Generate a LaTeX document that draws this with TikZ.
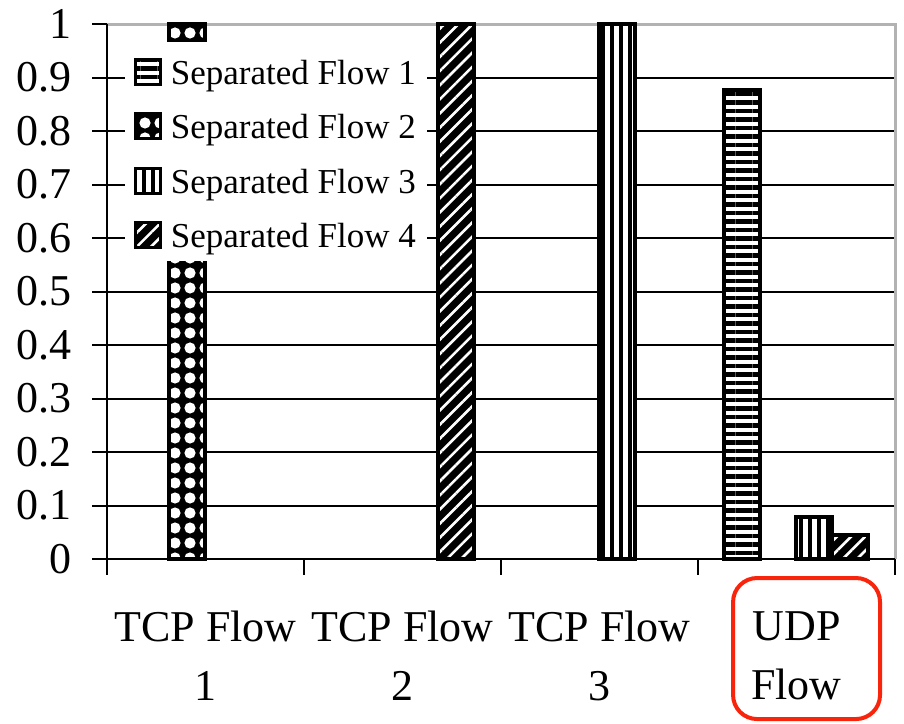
\documentclass[tikz,border=0pt]{standalone}
\usepackage{fontspec}
\setmainfont{Liberation Serif}
\usetikzlibrary{patterns.meta,positioning}
\definecolor{udpred}{RGB}{248,36,12}

\tikzset{
  bar/.style={draw=black, line width=2pt},
  flow 1/.style={preaction={fill=white}, pattern color=black,
    pattern={Lines[angle=0,distance=4.25pt,line width=2.1pt]}},
  flow 2/.style={preaction={fill=black}, pattern color=white,
    pattern={Dots[distance=7.5pt,radius=2.8pt,xshift=5pt]}},
  flow 3/.style={preaction={fill=white}, pattern color=black,
    pattern={Lines[angle=90,distance=4.5pt,line width=2.2pt]}},
  flow 4/.style={preaction={fill=black}, pattern color=white,
    pattern={Lines[angle=45,distance=5pt,line width=1.3pt]}},
}

\begin{document}
\begin{tikzpicture}[x=98.5pt, y=267.5pt,
    tick/.style={font=\fontsize{22}{26}\selectfont, anchor=east, inner sep=0pt},
    cat/.style={font=\fontsize{22}{29.5}\selectfont, align=center, anchor=north, inner sep=0pt},
    legtext/.style={font=\fontsize{17.5}{20}\selectfont, anchor=west, inner sep=0pt, text depth=0pt}]
    \useasboundingbox (-0.5431,-0.3065) rectangle (4.0457,1.0449);
    %% Grid and frame
    \foreach \v in {0.1,0.2,...,0.9}
        \draw[line width=1pt] (0,\v) -- (4,\v);
    \draw[gray!60, line width=1.5pt] (0,1) -- (4,1) -- (4,0);
    %% Axes
    \draw[line width=1pt] (0,1) -- (0,0) -- (4,0);
    \foreach \t [count=\i] in {0,0.1,0.2,0.3,0.4,0.5,0.6,0.7,0.8,0.9,1} {
        \draw[line width=1pt] (-0.076,\t) -- (0,\t);
        \node[tick] (yl\i) at (-0.178,\t) {\t};
    }
    \foreach \c in {0,...,4}
        \draw[line width=1pt] (\c,0) -- (\c,-0.03);
    %% Categories
    \node[cat] (tcp1) at (0.5,-0.097) {TCP Flow\\1};
    \node[cat] (tcp2) at (1.5,-0.097) {TCP Flow\\2};
    \node[cat] (tcp3) at (2.5,-0.097) {TCP Flow\\3};
    \node[cat] (udp) at (3.5,-0.097) {UDP\\Flow};
    \draw[udpred, line width=2pt, rounded corners=12pt] (3.178,-0.0355) rectangle (3.924,-0.2991);
    %% Bars
    \foreach \c/\k/\v in {1/2/1,2/4/1,3/3/1,4/1/0.877,4/3/0.078,4/4/0.045} {
        \pgfmathsetmacro\xl{\c-1+0.132+(\k-1)*0.183}
        \draw[bar, flow \k] (\xl,0) rectangle ++(0.183,\v);
    }
    %% Legend
    \fill[white] (0.0914,0.557) rectangle (1.6244,0.9664);
    \foreach \k/\yy in {1/0.910,2/0.809,3/0.7065,4/0.6056} {
        \node[bar, flow \k, line width=1.5pt, minimum size=12.5pt, inner sep=0pt] (sw\k) at (0.2107,\yy) {};
        \node[legtext, right=4pt of sw\k] (lab\k) {Separated Flow \k};
    }
\end{tikzpicture}
\end{document}
